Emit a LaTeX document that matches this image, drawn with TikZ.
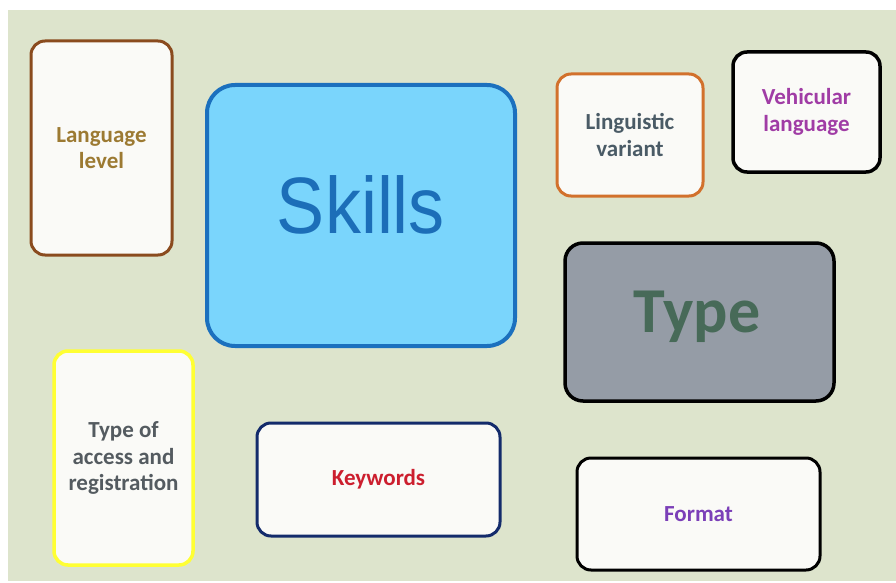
\documentclass[tikz,border=0pt]{standalone}
\usepackage{fontspec}
\setmainfont{Carlito}
\newfontfamily\skillsfont{Liberation Sans}
\definecolor{bgwhite}{HTML}{FFFFFF}
\definecolor{bggreen}{HTML}{DDE4CC}
\definecolor{cardfill}{HTML}{FAFAF7}
\definecolor{brownline}{HTML}{8A4B1E}
\definecolor{goldtext}{HTML}{9C7A32}
\definecolor{skillsfill}{HTML}{7AD5FC}
\definecolor{skillsline}{HTML}{1B70BE}
\definecolor{skillstext}{HTML}{1C6EB8}
\definecolor{orangeline}{HTML}{D2712C}
\definecolor{slatetext}{HTML}{4A5B66}
\definecolor{vehtext}{HTML}{A03CA5}
\definecolor{typefill}{HTML}{959CA6}
\definecolor{typetext}{HTML}{476A58}
\definecolor{yellowline}{HTML}{FFFF33}
\definecolor{greytext}{HTML}{545B60}
\definecolor{navyline}{HTML}{132B6B}
\definecolor{redtext}{HTML}{CC1E2E}
\definecolor{formattext}{HTML}{7B3FB8}
\tikzset{
  card/.style={draw, fill=cardfill, line width=3pt, rounded corners=14pt,
    align=center, inner sep=0pt, font=\fontsize{23}{26.5}\selectfont\bfseries},
}
\begin{document}
\begin{tikzpicture}[x=1pt,y=-1pt]
\fill[bgwhite] (0,0) rectangle (896,583);
\fill[bggreen] (8,10) rectangle (896,581);
\useasboundingbox (0,0) rectangle (896,583);

\node[card, draw=brownline, text=goldtext, minimum width=141pt, minimum height=214pt]
  (lang) at (101.5,148) {Language\\level};

\node[draw=skillsline, fill=skillsfill, line width=4pt, rounded corners=28pt,
  minimum width=308pt, minimum height=261pt, inner sep=0pt]
  (skills) at (361,215.5) {};
\node[text=skillstext, font=\skillsfont\fontsize{80}{80}\selectfont, anchor=base, inner sep=0pt]
  (skillslabel) at (361,233) {\scalebox{0.9}[1]{Skills}};

\node[card, draw=orangeline, text=slatetext, minimum width=146pt, minimum height=122pt]
  (ling) at (630,135) {Linguistic\\variant};

\node[card, draw=black, text=vehtext, line width=3.5pt, minimum width=147pt, minimum height=120pt]
  (veh) at (806.5,112) {Vehicular\\language};

\node[draw=black, fill=typefill, line width=3.5pt, rounded corners=18pt,
  minimum width=269pt, minimum height=158pt, inner sep=0pt]
  (type) at (699.5,322) {};
\node[text=typetext, font=\fontsize{64}{64}\selectfont\bfseries, anchor=base, inner sep=0pt]
  (typelabel) at (697,332) {Type};

\node[card, draw=yellowline, text=greytext, line width=3.5pt, minimum width=139pt, minimum height=214pt]
  (access) at (123.5,458) {Type of\\access and\\registration};

\node[card, draw=navyline, text=redtext, minimum width=243pt, minimum height=113pt]
  (kw) at (378.5,479.5) {Keywords};

\node[card, draw=black, text=formattext, minimum width=243pt, minimum height=112pt]
  (format) at (698.5,514) {Format};
\end{tikzpicture}
\end{document}
